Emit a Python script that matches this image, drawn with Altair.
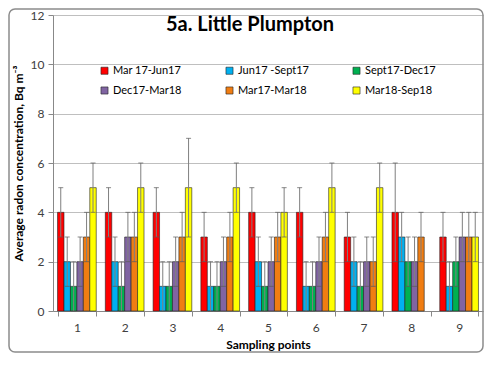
import altair as alt
import pandas as pd

title_text = "5a. Little Plumpton"
points = ["1", "2", "3", "4", "5", "6", "7", "8", "9"]
series = ["Mar 17-Jun17", "Jun17 -Sept17", "Sept17-Dec17",
          "Dec17-Mar18", "Mar17-Mar18", "Mar18-Sep18"]
colors = ["#FF0000", "#00B0F0", "#00B050", "#8064A2", "#F07D12", "#FFFF00"]

mar17_jun17 = [4, 4, 4, 3, 4, 4, 3, 4, 3]
jun17_sept17 = [2, 2, 1, 1, 2, 1, 2, 3, 1]
sept17_dec17 = [1, 1, 1, 1, 1, 1, 1, 2, 2]
dec17_mar18 = [2, 3, 2, 2, 2, 2, 2, 2, 3]
mar17_mar18 = [3, 3, 3, 3, 3, 3, 2, 3, 3]
mar18_sep18 = [5, 5, 5, 5, 4, 5, 5, None, 3]

err_mar17_jun17 = [1, 1, 1, 1, 1, 1, 1, 2, 1]
err_jun17_sept17 = [1, 1, 1, 1, 1, 1, 1, 1, 1]
err_sept17_dec17 = [1, 1, 1, 1, 1, 1, 1, 1, 1]
err_dec17_mar18 = [1, 1, 1, 1, 1, 1, 1, 1, 1]
err_mar17_mar18 = [1, 1, 1, 1, 1, 1, 1, 1, 1]
err_mar18_sep18 = [1, 1, 2, 1, 1, 1, 1, 0, 1]

values = [mar17_jun17, jun17_sept17, sept17_dec17, dec17_mar18, mar17_mar18, mar18_sep18]
errors = [err_mar17_jun17, err_jun17_sept17, err_sept17_dec17,
          err_dec17_mar18, err_mar17_mar18, err_mar18_sep18]

rows = []
for s, vals, errs in zip(series, values, errors):
    for p, v, e in zip(points, vals, errs):
        if v is None:
            continue
        rows.append({"point": p, "series": s, "value": v,
                     "low": max(v - e, 0), "high": v + e})
df = pd.DataFrame(rows)

FONT = "Lato"

x_enc = alt.X("point:N", sort=points,
              scale=alt.Scale(paddingInner=0.19, paddingOuter=0.095),
              axis=alt.Axis(title="Sampling points", labelAngle=0, tickBand="extent",
                            domainColor="#888888", tickColor="#888888", tickSize=5,
                            labelFontSize=12, labelColor="#404040", labelPadding=6,
                            titleFontSize=12, titleFontWeight="bold", titleColor="#000000",
                            titlePadding=6, grid=False))
xo_enc = alt.XOffset("series:N", sort=series,
                     scale=alt.Scale(domain=series, paddingInner=0, paddingOuter=0))

base = alt.Chart(df).encode(x=x_enc, xOffset=xo_enc)

bars = base.mark_bar(stroke="#222222", strokeWidth=0.6).encode(
    y=alt.Y("value:Q", scale=alt.Scale(domain=[0, 12], nice=False),
            axis=alt.Axis(values=[0, 2, 4, 6, 8, 10, 12], grid=True, gridColor="#BFBFBF",
                          domainColor="#888888", tickColor="#888888", tickSize=5,
                          labelFontSize=12, labelColor="#404040", labelPadding=4,
                          title="Average radon concentration, Bq m⁻³",
                          titleFontSize=12, titleFontWeight="bold", titleColor="#000000",
                          titlePadding=5)),
    color=alt.Color("series:N", sort=series,
                    scale=alt.Scale(domain=series, range=colors),
                    legend=alt.Legend(orient="none", legendX=46, legendY=50, columns=3,
                                      direction="horizontal",
                                      title=None, symbolType="square", symbolSize=50,
                                      symbolStrokeColor="#222222", symbolStrokeWidth=0.6,
                                      labelFontSize=11, labelColor="#000000",
                                      columnPadding=42, rowPadding=8, labelOffset=3,
                                      fillColor="white")),
)

rules = base.mark_rule(color="#7F7F7F", strokeWidth=1).encode(y="low:Q", y2="high:Q")
caps_hi = base.mark_tick(color="#595959", size=5, thickness=1).encode(y="high:Q")
caps_lo = base.mark_tick(color="#595959", size=5, thickness=1).encode(y="low:Q")

title = alt.Chart(pd.DataFrame({"t": [title_text]})).mark_text(
    fontSize=20, fontWeight="bold", color="#000000", baseline="middle", align="center"
).encode(text="t:N", x=alt.value(197), y=alt.value(10))

border = alt.Chart(pd.DataFrame({"a": [0]})).mark_rect(
    fill=None, stroke="#8C8C8C", strokeWidth=1.5, cornerRadius=6
).encode(x=alt.value(-44), x2=alt.value(430), y=alt.value(-6), y2=alt.value(337))

chart = alt.layer(border, bars, rules, caps_hi, caps_lo, title).properties(
    width=430, height=296,
    autosize=alt.AutoSizeParams(type="none"),
    padding={"left": 45, "top": 7, "right": 1, "bottom": 42},
).configure(font=FONT).configure_view(stroke=None)

chart.save("out.html", embed_options={"renderer": "svg", "actions": False})
